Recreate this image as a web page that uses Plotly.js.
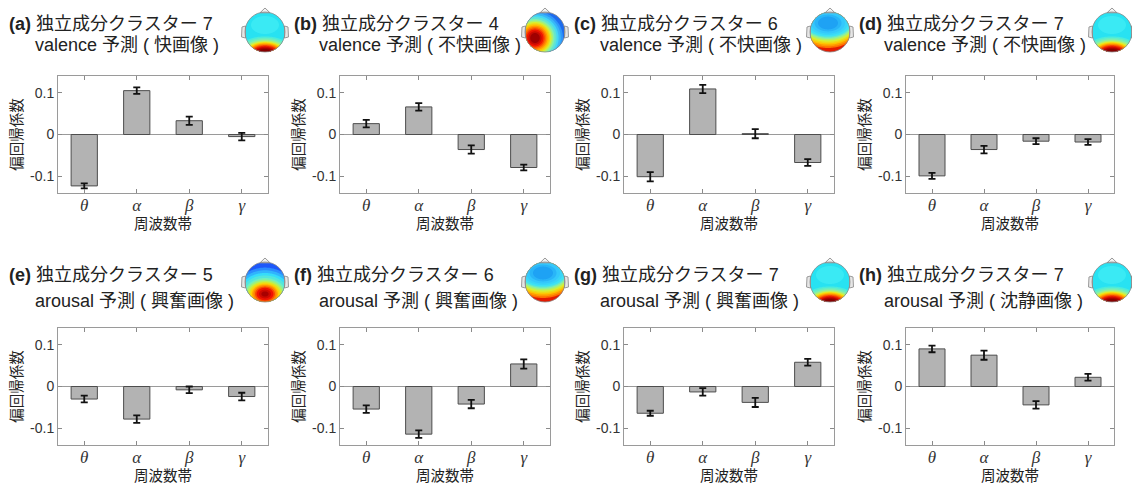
<!DOCTYPE html>
<html>
<head>
<meta charset="utf-8">
<script src="https://cdn.plot.ly/plotly-3.0.1.min.js"></script>
<style>
html,body{margin:0;padding:0;background:#fff;}
#chart{width:1132px;height:489px;}
</style>
</head>
<body>
<div id="chart"></div>
<script>
// ---------------- data ----------------
const bands = ['θ', 'α', 'β', 'γ'];
const panelTags = ['(a)', '(b)', '(c)', '(d)', '(e)', '(f)', '(g)', '(h)'];
const clusterNames = ['独立成分クラスター 7', '独立成分クラスター 4', '独立成分クラスター 6', '独立成分クラスター 7',
                      '独立成分クラスター 5', '独立成分クラスター 6', '独立成分クラスター 7', '独立成分クラスター 7'];
const predictionNames = ['valence 予測 ( 快画像 )', 'valence 予測 ( 不快画像 )', 'valence 予測 ( 不快画像 )', 'valence 予測 ( 不快画像 )',
                         'arousal 予測 ( 興奮画像 )', 'arousal 予測 ( 興奮画像 )', 'arousal 予測 ( 興奮画像 )', 'arousal 予測 ( 沈静画像 )'];
const clusterIds = [7, 4, 6, 7, 5, 6, 7, 7];
const xTitle = '周波数帯';
const yTitle = '偏回帰係数';
const yTickVals = [-0.1, 0, 0.1];
const yTickText = ['-0.1', '0', '0.1'];

const coefA = [-0.123, 0.105, 0.033, -0.005];
const coefB = [0.026, 0.066, -0.036, -0.079];
const coefC = [-0.101, 0.109, 0.002, -0.067];
const coefD = [-0.099, -0.036, -0.016, -0.018];
const coefE = [-0.030, -0.078, -0.008, -0.024];
const coefF = [-0.054, -0.114, -0.042, 0.054];
const coefG = [-0.064, -0.013, -0.038, 0.058];
const coefH = [0.090, 0.075, -0.044, 0.022];

const errA = [0.006, 0.008, 0.010, 0.009];
const errB = [0.009, 0.009, 0.010, 0.007];
const errC = [0.011, 0.010, 0.011, 0.008];
const errD = [0.007, 0.009, 0.007, 0.007];
const errE = [0.008, 0.009, 0.008, 0.009];
const errF = [0.009, 0.009, 0.010, 0.011];
const errG = [0.006, 0.009, 0.011, 0.008];
const errH = [0.008, 0.011, 0.009, 0.008];

const coefs = [coefA, coefB, coefC, coefD, coefE, coefF, coefG, coefH];
const errs = [errA, errB, errC, errD, errE, errF, errG, errH];

// ---------------- layout geometry (pixels) ----------------
const W = 1132, H = 489;
const colLeft = [58, 340, 624, 906];
const colRight = [268, 550, 834, 1114];
const rowTop = [76, 328];
const rowBottom = [193, 445];
const titleLine1X = [7, 292, 572, 857];
const titleLine2X = [33, 317, 598, 882];
const titleLine1Y = [24, 275];
const titleLine2Y = [45, 301];
const headCX = [265, 545, 830, 1112];
const headCY = [32, 282];
const headR = 20;

const px = v => v / W;
const py = v => 1 - v / H;

const fontMain = 'Liberation Sans, Arial, Noto Sans CJK JP, sans-serif';

// topographic map colour layers (decoration): [dx, dy, rx, ry, colour] relative to head radius
const topoStyles = {
  7: {base: '#28e2f2', layers: [
    [0, -0.35, 0.7, 0.45, '#3aeaf4'],
    [0, 1.0, 1.4, 0.78, '#4aecdc'],
    [0, 1.0, 1.15, 0.64, '#86f0a8'],
    [0, 1.0, 0.95, 0.52, '#e0f030'],
    [0, 1.0, 0.85, 0.46, '#ffc800'],
    [0, 1.0, 0.74, 0.39, '#ff8000'],
    [0, 1.0, 0.62, 0.31, '#f02800'],
    [0, 1.0, 0.48, 0.23, '#c00000'],
    [0, 1.0, 0.34, 0.15, '#880000']]},
  4: {base: '#1e6cee', layers: [
    [-0.5, 0.3, 1.4, 1.35, '#2e96fa'],
    [-0.5, 0.3, 1.18, 1.14, '#44d8f4'],
    [-0.5, 0.3, 0.98, 0.95, '#80f0b0'],
    [-0.5, 0.3, 0.82, 0.8, '#d8f030'],
    [-0.5, 0.3, 0.7, 0.68, '#ffc000'],
    [-0.5, 0.3, 0.56, 0.55, '#ff7000'],
    [-0.5, 0.3, 0.42, 0.42, '#ee1400'],
    [-0.5, 0.3, 0.24, 0.25, '#a00000']]},
  6: {base: '#e41a00', layers: [
    [-0.1, -0.45, 1.65, 1.25, '#ff7000'],
    [-0.1, -0.45, 1.5, 1.08, '#ffc400'],
    [-0.1, -0.45, 1.38, 0.94, '#d8f030'],
    [-0.1, -0.45, 1.26, 0.8, '#8cf0a0'],
    [-0.1, -0.45, 1.14, 0.68, '#3ee2f4'],
    [-0.1, -0.45, 0.85, 0.52, '#34c8fc'],
    [-0.1, -0.45, 0.5, 0.32, '#1ea2f4']]},
  5: {base: '#1e58fa', layers: [
    [0, 0.6, 1.55, 1.32, '#2a8cff'],
    [0, 0.6, 1.32, 1.05, '#36dcfa'],
    [0, 0.6, 1.05, 0.8, '#70f0c0'],
    [0, 0.6, 0.86, 0.64, '#c8f040'],
    [0, 0.6, 0.72, 0.53, '#ffd000'],
    [0, 0.6, 0.58, 0.43, '#ff8200'],
    [0, 0.6, 0.42, 0.31, '#f01200'],
    [0, 0.6, 0.18, 0.13, '#a80000']]}
};

function hexToRgb(h) { return [1, 3, 5].map(k => parseInt(h.substr(k, 2), 16)); }
function mixColor(a, b) {
  const ca = hexToRgb(a), cb = hexToRgb(b);
  return 'rgb(' + ca.map((v, k) => Math.round((v + cb[k]) / 2)).join(',') + ')';
}
function pathFrom(pts) {
  return 'M' + pts.map(p => px(p[0]).toFixed(5) + ',' + py(p[1]).toFixed(5)).join('L') + 'Z';
}
// intersection of an ellipse with the head disc, as a polygon
function clippedEllipse(cx, cy, R, ex, ey, rx, ry) {
  const pts = [], N = 180;
  for (let k = 0; k < N; k++) {
    const t = 2 * Math.PI * k / N;
    const x = ex + rx * Math.cos(t), y = ey + ry * Math.sin(t);
    if ((x - cx) ** 2 + (y - cy) ** 2 <= R * R) pts.push([x, y]);
  }
  for (let k = 0; k < N; k++) {
    const t = 2 * Math.PI * k / N;
    const x = cx + R * Math.cos(t), y = cy + R * Math.sin(t);
    if (((x - ex) / rx) ** 2 + ((y - ey) / ry) ** 2 <= 1) pts.push([x, y]);
  }
  if (pts.length < 3) return null;
  const mx = pts.reduce((s, p) => s + p[0], 0) / pts.length;
  const my = pts.reduce((s, p) => s + p[1], 0) / pts.length;
  pts.sort((a, b) => Math.atan2(a[1] - my, a[0] - mx) - Math.atan2(b[1] - my, b[0] - mx));
  return pts;
}

function headShapes(cx, cy, R, style) {
  const s = [];
  s.push({type: 'circle', xref: 'paper', yref: 'paper', x0: px(cx - R), x1: px(cx + R), y0: py(cy + R), y1: py(cy - R),
          fillcolor: style.base, line: {width: 0}, layer: 'above'});
  const L = style.layers, full = [];
  for (let k = 0; k < L.length; k++) {
    full.push(L[k]);
    if (k + 1 < L.length && L[k][0] === L[k + 1][0] && L[k][1] === L[k + 1][1]) {
      full.push([L[k][0], L[k][1], (L[k][2] + L[k + 1][2]) / 2, (L[k][3] + L[k + 1][3]) / 2, mixColor(L[k][4], L[k + 1][4])]);
    }
  }
  full.forEach(l => {
    const pts = clippedEllipse(cx, cy, R, cx + l[0] * R, cy + l[1] * R, l[2] * R, l[3] * R);
    if (pts) s.push({type: 'path', xref: 'paper', yref: 'paper', path: pathFrom(pts),
                     fillcolor: l[4], line: {width: 0}, layer: 'above'});
  });
  s.push({type: 'path', xref: 'paper', yref: 'paper', layer: 'above',
          path: pathFrom([[cx - R + 0.5, cy - 6], [cx - R - 3, cy - 5], [cx - R - 3.5, cy + 5], [cx - R + 0.5, cy + 6]]),
          fillcolor: '#e6e6e6', line: {color: '#9a9a9a', width: 1}});
  s.push({type: 'path', xref: 'paper', yref: 'paper', layer: 'above',
          path: pathFrom([[cx + R - 0.5, cy - 6], [cx + R + 3, cy - 5], [cx + R + 3.5, cy + 5], [cx + R - 0.5, cy + 6]]),
          fillcolor: '#e6e6e6', line: {color: '#9a9a9a', width: 1}});
  s.push({type: 'path', xref: 'paper', yref: 'paper', layer: 'above',
          path: pathFrom([[cx - 5, cy - R + 0.8], [cx, cy - R - 4], [cx + 5, cy - R + 0.8]]),
          fillcolor: '#f2f2f2', line: {color: '#9a9a9a', width: 1}});
  s.push({type: 'circle', xref: 'paper', yref: 'paper', x0: px(cx - R), x1: px(cx + R), y0: py(cy + R), y1: py(cy - R),
          line: {color: '#8a8a8a', width: 0.8}, layer: 'above'});
  return s;
}

const traces = [];
const layout = {
  width: W, height: H,
  margin: {l: 0, r: 0, t: 0, b: 0},
  paper_bgcolor: '#ffffff', plot_bgcolor: '#ffffff',
  showlegend: false,
  font: {family: fontMain, color: '#222'},
  annotations: [],
  shapes: []
};

for (let i = 0; i < 8; i++) {
  const row = Math.floor(i / 4), col = i % 4;
  const n = i + 1;
  const xa = n === 1 ? 'xaxis' : 'xaxis' + n;
  const ya = n === 1 ? 'yaxis' : 'yaxis' + n;
  const xr = n === 1 ? 'x' : 'x' + n;
  const yr = n === 1 ? 'y' : 'y' + n;

  traces.push({
    type: 'bar', x: bands, y: coefs[i], xaxis: xr, yaxis: yr, width: 0.5,
    marker: {color: '#b3b3b3', line: {color: '#4d4d4d', width: 1}},
    error_y: {type: 'data', array: errs[i], visible: true, color: '#111111', thickness: 1.8, width: 3.5},
    hoverinfo: 'skip', showlegend: false
  });

  layout[xa] = {
    domain: [px(colLeft[col]), px(colRight[col])], anchor: yr,
    type: 'category', range: [-0.5, 3.5],
    showline: true, linecolor: '#9a9a9a', linewidth: 1, mirror: 'ticks',
    ticks: 'inside', ticklen: 4, tickcolor: '#8a8a8a', tickwidth: 1,
    ticklabelstandoff: -3,
    tickfont: {family: 'Liberation Serif, Times New Roman, serif', style: 'italic', size: 17, color: '#333'},
    showgrid: false, zeroline: false, fixedrange: true,
    title: {text: xTitle, font: {family: fontMain, size: 14.5, color: '#222'}, standoff: 4}
  };
  layout[ya] = {
    domain: [py(rowBottom[row]), py(rowTop[row])], anchor: xr,
    range: [-0.14, 0.14], tickmode: 'array', tickvals: yTickVals, ticktext: yTickText,
    showline: true, linecolor: '#9a9a9a', linewidth: 1, mirror: 'ticks',
    ticks: 'inside', ticklen: 4, tickcolor: '#8a8a8a', tickwidth: 1,
    tickfont: {family: fontMain, size: 14, color: '#333'},
    showgrid: false, zeroline: true, zerolinecolor: '#9a9a9a', zerolinewidth: 1, fixedrange: true,
    title: {text: yTitle, font: {family: fontMain, size: 14.5, color: '#222'}, standoff: 4}
  };

  layout.annotations.push({
    xref: 'paper', yref: 'paper', x: px(titleLine1X[col]), y: py(titleLine1Y[row]),
    xanchor: 'left', yanchor: 'middle', showarrow: false,
    text: '<b>' + panelTags[i] + '</b> ' + clusterNames[i],
    font: {family: fontMain, size: 18, color: '#222'}
  });
  layout.annotations.push({
    xref: 'paper', yref: 'paper', x: px(titleLine2X[col]), y: py(titleLine2Y[row]),
    xanchor: 'left', yanchor: 'middle', showarrow: false,
    text: predictionNames[i],
    font: {family: fontMain, size: 18, color: '#222'}
  });

  layout.shapes.push(...headShapes(headCX[col], headCY[row], headR, topoStyles[clusterIds[i]]));
}

Plotly.newPlot('chart', traces, layout, {staticPlot: true, displayModeBar: false});
</script>
</body>
</html>
